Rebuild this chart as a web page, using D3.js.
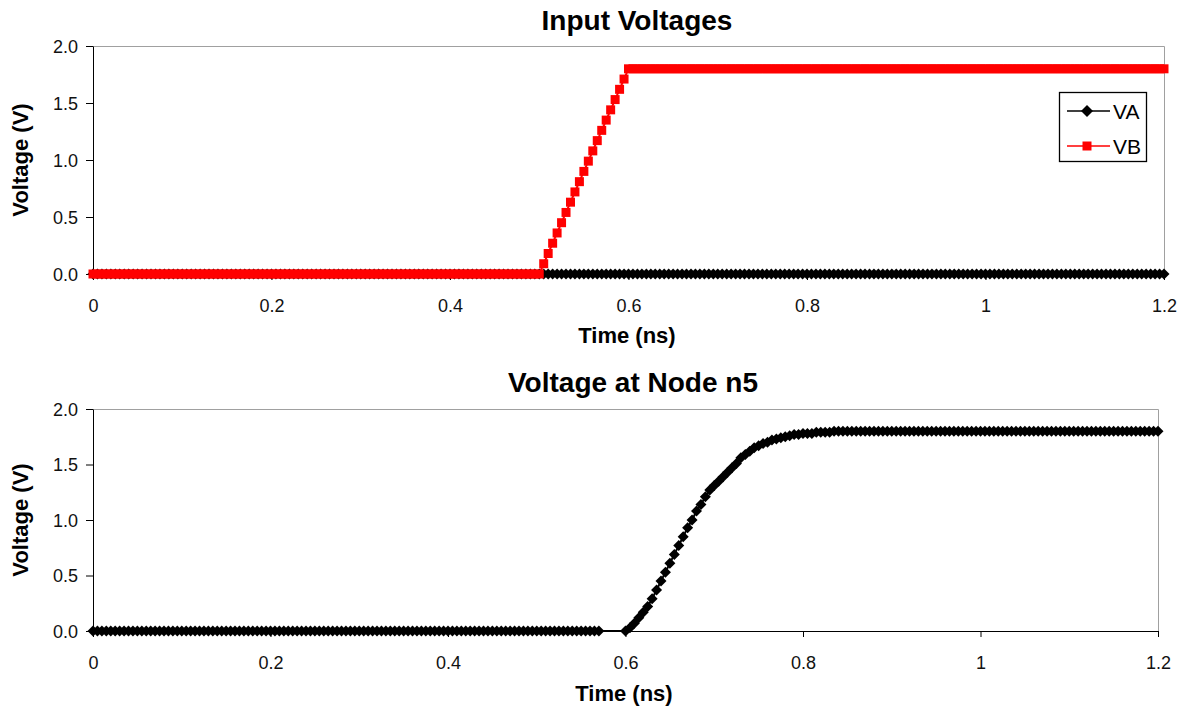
<!DOCTYPE html>
<html>
<head>
<meta charset="utf-8">
<script src="https://cdn.jsdelivr.net/npm/d3@7.9.0/dist/d3.min.js"></script>
<style>
  body { margin: 0; background: #fff; }
  svg { display: block; font-family: Arial, "Liberation Sans", sans-serif; }
</style>
</head>
<body>
<svg id="chart" width="1185" height="707"></svg>
<script>
// sample grid of the transient simulation: 0 .. 1.2 ns every 0.005 ns
const timeNs = d3.range(241).map(i => +(i * 0.005).toFixed(3));

const xTicks = [0, 0.2, 0.4, 0.6, 0.8, 1, 1.2];
const yTicks = [0, 0.5, 1.0, 1.5, 2.0];

// input A stays low the whole run
const vaVolts = [
  0,0,0,0,0,0,0,0,0,0,0,0,0,0,0,0,0,0,0,0,
  0,0,0,0,0,0,0,0,0,0,0,0,0,0,0,0,0,0,0,0,
  0,0,0,0,0,0,0,0,0,0,0,0,0,0,0,0,0,0,0,0,
  0,0,0,0,0,0,0,0,0,0,0,0,0,0,0,0,0,0,0,0,
  0,0,0,0,0,0,0,0,0,0,0,0,0,0,0,0,0,0,0,0,
  0,0,0,0,0,0,0,0,0,0,0,0,0,0,0,0,0,0,0,0,
  0,0,0,0,0,0,0,0,0,0,0,0,0,0,0,0,0,0,0,0,
  0,0,0,0,0,0,0,0,0,0,0,0,0,0,0,0,0,0,0,0,
  0,0,0,0,0,0,0,0,0,0,0,0,0,0,0,0,0,0,0,0,
  0,0,0,0,0,0,0,0,0,0,0,0,0,0,0,0,0,0,0,0,
  0,0,0,0,0,0,0,0,0,0,0,0,0,0,0,0,0,0,0,0,
  0,0,0,0,0,0,0,0,0,0,0,0,0,0,0,0,0,0,0,0,
  0
];

// input B ramps 0 -> 1.8 V between 0.5 and 0.6 ns
const vbVolts = [
  0,0,0,0,0,0,0,0,0,0,0,0,0,0,0,0,0,0,0,0,
  0,0,0,0,0,0,0,0,0,0,0,0,0,0,0,0,0,0,0,0,
  0,0,0,0,0,0,0,0,0,0,0,0,0,0,0,0,0,0,0,0,
  0,0,0,0,0,0,0,0,0,0,0,0,0,0,0,0,0,0,0,0,
  0,0,0,0,0,0,0,0,0,0,0,0,0,0,0,0,0,0,0,0,
  0,
  0.09,0.18,0.27,0.36,0.45,0.54,0.63,0.72,0.81,0.9,
  0.99,1.08,1.17,1.26,1.35,1.44,1.53,1.62,1.71,1.8,
  1.8,1.8,1.8,1.8,1.8,1.8,1.8,1.8,1.8,1.8,1.8,1.8,1.8,1.8,1.8,1.8,1.8,1.8,1.8,1.8,
  1.8,1.8,1.8,1.8,1.8,1.8,1.8,1.8,1.8,1.8,1.8,1.8,1.8,1.8,1.8,1.8,1.8,1.8,1.8,1.8,
  1.8,1.8,1.8,1.8,1.8,1.8,1.8,1.8,1.8,1.8,1.8,1.8,1.8,1.8,1.8,1.8,1.8,1.8,1.8,1.8,
  1.8,1.8,1.8,1.8,1.8,1.8,1.8,1.8,1.8,1.8,1.8,1.8,1.8,1.8,1.8,1.8,1.8,1.8,1.8,1.8,
  1.8,1.8,1.8,1.8,1.8,1.8,1.8,1.8,1.8,1.8,1.8,1.8,1.8,1.8,1.8,1.8,1.8,1.8,1.8,1.8,
  1.8,1.8,1.8,1.8,1.8,1.8,1.8,1.8,1.8,1.8,1.8,1.8,1.8,1.8,1.8,1.8,1.8,1.8,1.8,1.8
];

// node n5 (null = no sample stored, simulator took a longer step there)
const n5Volts = [
  0,0,0,0,0,0,0,0,0,0,0,0,0,0,0,0,0,0,0,0,
  0,0,0,0,0,0,0,0,0,0,0,0,0,0,0,0,0,0,0,0,
  0,0,0,0,0,0,0,0,0,0,0,0,0,0,0,0,0,0,0,0,
  0,0,0,0,0,0,0,0,0,0,0,0,0,0,0,0,0,0,0,0,
  0,0,0,0,0,0,0,0,0,0,0,0,0,0,0,0,0,0,0,0,
  0,0,0,0,0,0,0,0,0,0,0,0,0,0,0,
  null,null,null,null,null,
  0.00,0.03,0.07,0.12,0.17,0.22,0.29,0.37,0.45,0.53,
  0.61,0.69,0.77,0.85,0.93,1.00,1.08,1.14,1.21,1.27,
  1.31,1.35,1.39,1.43,1.47,1.51,1.56,1.59,1.62,1.65,
  1.67,1.69,1.70,1.72,1.73,1.74,1.75,1.76,1.77,1.77,
  1.78,1.78,1.78,1.79,1.79,1.79,1.79,1.80,
  1.8,1.8,1.8,1.8,1.8,1.8,1.8,1.8,1.8,1.8,1.8,1.8,1.8,1.8,1.8,1.8,1.8,1.8,1.8,1.8,
  1.8,1.8,1.8,1.8,1.8,1.8,1.8,1.8,1.8,1.8,1.8,1.8,1.8,1.8,1.8,1.8,1.8,1.8,1.8,1.8,
  1.8,1.8,1.8,1.8,1.8,1.8,1.8,1.8,1.8,1.8,1.8,1.8,1.8,1.8,1.8,1.8,1.8,1.8,1.8,1.8,
  1.8,1.8,1.8,1.8,1.8,1.8,1.8,1.8,1.8,1.8,1.8,1.8,1.8
];

const diamond = r => `M0,${-r}L${r},0L0,${r}L${-r},0Z`;
const square = r => `M${-r},${-r}H${r}V${r}H${-r}Z`;

const svg = d3.select('#chart');

function toPoints(values) {
  return values
    .map((v, i) => ({ t: timeNs[i], v }))
    .filter(d => d.v !== null);
}

function drawPanel(cfg) {
  const { frame } = cfg;
  const x = d3.scaleLinear().domain([0, 1.2]).range([frame.left, frame.right]);
  const y = d3.scaleLinear().domain([0, 2]).range([frame.bottom, frame.top]);
  const g = svg.append('g');

  // gray top / right border of the plot area
  g.append('path')
    .attr('d', `M${frame.left},${frame.top + 0.5}H${frame.right + 0.5}V${frame.bottom}`)
    .attr('fill', 'none')
    .attr('stroke', '#a0a0a0')
    .attr('stroke-width', 1);

  const xAxis = g.append('g')
    .attr('transform', `translate(0,${frame.bottom})`)
    .call(d3.axisBottom(x).tickValues(xTicks).tickFormat(d3.format('~g'))
      .tickSize(6).tickSizeOuter(0).tickPadding(19));
  const yAxis = g.append('g')
    .attr('transform', `translate(${frame.left},0)`)
    .call(d3.axisLeft(y).tickValues(yTicks).tickFormat(d3.format('.1f'))
      .tickSize(7).tickSizeOuter(0).tickPadding(8));

  [xAxis, yAxis].forEach(a => {
    a.selectAll('text').attr('font-size', 18).attr('fill', '#111').attr('font-family', null);
    a.selectAll('line, path').attr('stroke', '#000');
  });
  yAxis.selectAll('text').attr('dy', '0.34em');

  // titles
  g.append('text')
    .attr('x', cfg.titleX).attr('y', cfg.titleY)
    .attr('text-anchor', 'middle')
    .attr('font-size', 28).attr('font-weight', 'bold')
    .text(cfg.title);
  g.append('text')
    .attr('x', cfg.xLabelX).attr('y', cfg.xLabelY)
    .attr('text-anchor', 'middle')
    .attr('font-size', 22).attr('font-weight', 'bold')
    .text('Time (ns)');
  g.append('text')
    .attr('transform', `translate(28,${(frame.top + frame.bottom) / 2}) rotate(-90)`)
    .attr('text-anchor', 'middle')
    .attr('font-size', 22).attr('font-weight', 'bold')
    .text('Voltage (V)');

  const line = d3.line().x(d => x(d.t)).y(d => y(d.v));

  cfg.series.forEach(s => {
    const pts = toPoints(s.values);
    g.append('path')
      .datum(pts)
      .attr('d', line)
      .attr('fill', 'none')
      .attr('stroke', s.color)
      .attr('stroke-width', 2);
    g.append('g')
      .selectAll('path')
      .data(pts)
      .join('path')
      .attr('transform', d => `translate(${x(d.t)},${y(d.v)})`)
      .attr('d', s.marker)
      .attr('fill', s.color);
  });

  if (cfg.legend) {
    const lg = g.append('g');
    lg.append('rect')
      .attr('x', 1059.5).attr('y', 92.5)
      .attr('width', 87).attr('height', 69)
      .attr('fill', '#fff')
      .attr('stroke', '#000')
      .attr('stroke-width', 1.3);
    cfg.series.forEach((s, i) => {
      const cy = 111 + i * 35;
      lg.append('line')
        .attr('x1', 1067).attr('x2', 1110)
        .attr('y1', cy).attr('y2', cy)
        .attr('stroke', s.color).attr('stroke-width', 1.5);
      lg.append('path')
        .attr('transform', `translate(1087,${cy})`)
        .attr('d', s.legendMarker)
        .attr('fill', s.color);
      lg.append('text')
        .attr('x', 1113).attr('y', cy + 7.5)
        .attr('font-size', 21)
        .text(s.name);
    });
  }
}

drawPanel({
  frame: { left: 93, right: 1164, top: 46, bottom: 274 },
  title: 'Input Voltages', titleX: 637, titleY: 30,
  xLabelX: 627, xLabelY: 343,
  legend: true,
  series: [
    { name: 'VA', values: vaVolts, color: '#000', marker: diamond(5.5), legendMarker: diamond(6) },
    { name: 'VB', values: vbVolts, color: '#ff0000', marker: square(4.5), legendMarker: square(4.5) }
  ]
});

drawPanel({
  frame: { left: 93, right: 1158, top: 409, bottom: 631 },
  title: 'Voltage at Node n5', titleX: 633, titleY: 392,
  xLabelX: 624, xLabelY: 701,
  legend: false,
  series: [
    { name: 'n5', values: n5Volts, color: '#000', marker: diamond(5.5) }
  ]
});
</script>
</body>
</html>
